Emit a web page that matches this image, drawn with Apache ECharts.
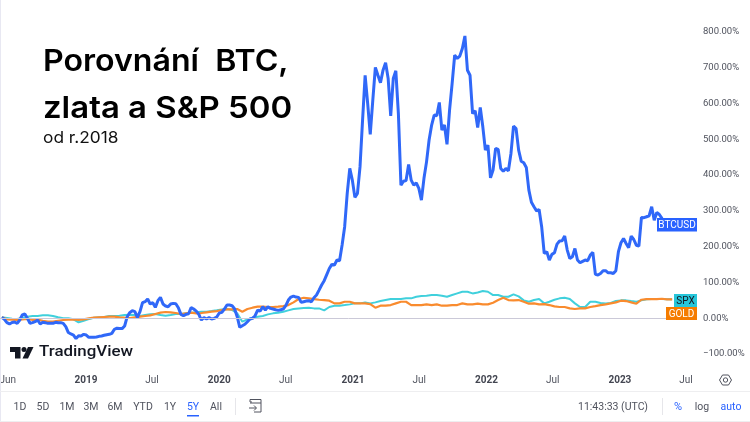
<!DOCTYPE html>
<html>
<head>
<meta charset="utf-8">
<title>Porovnání BTC, zlata a S&amp;P 500</title>
<script src="https://cdn.jsdelivr.net/npm/echarts@6/dist/echarts.min.js"></script>
<style>
html, body { margin: 0; padding: 0; background: #fff; }
#chart { width: 750px; height: 422px; }
</style>
</head>
<body>
<div id="chart"></div>
<script>
// hodnoty, % zmena od kvetna 2018
var startDate = '2018-05-16';
var btcValues = [
  2.5,-3,-12.4,-16,-12,-10.6,-14.3,-5,9,11.8,-0.3,-14,-12.4,-9.6,-5,-16,-11.5,-12.4,-14.3,-14.3,-14.3,-11.5,-12.4,-12.4,-14.3,
  -23.6,-40,-44,-47,-57,-48.8,-49.7,-45,-47,-53.4,-53.4,-53.4,-52.5,-50.6,-49.7,-47.8,-46,-45,-42.2,-31,-28,-29,-29,-21.7,
  4.3,15.5,21,18.3,2.5,18.3,43.4,46.2,53.7,39.7,43.4,30.4,49,58.3,39.7,34,32,
  39.6,41.5,40.6,29.4,10.8,7,10.8,12.6,29.4,25.7,20,10.8,-5,1.5,-2.3,1.5,-2.3,-0.4,3.3,14.5,16.4,25.7,36.8,36.8,35,25.7,4.3,
  -25.5,-21,-17,-9.7,-2.3,-0.4,7,22.9,20,32.2,22.9,32.2,27.5,25.7,23.8,22,23.8,25.7,35,50.8,59.2,62,59.2,58.3,44.3,46.2,48,49,46,57.3,64.8,78.7,92.7,
  105,122,139,150.6,148.7,162.7,160.8,204.6,255.8,349,418.7,386,337.7,349,423,553.7,679,600,513.7,609.6,700.8,679,658,693.4,713.8,670,565.8,670,691.5,572,
  372,383,385,430,386,372,378,363,330,391,437,498,540,568,566,603,526,540,486,581.6,656,735,726,732.5,754,789,693,679,572,580,533,589,535,470,484,392.6,414,474.6,472,418.7,411,418.7,412,460.6,537,530,470,439,434.5,421.5,358,324,311.6,300,304,255.8,181,186,162.7,178.5,183,207,216,
  216.6,229.6,190.5,167,172,195,162.6,155,159,162.6,160.7,176.5,184,122.5,120.7,125,133,133,127,127,125,133,186,211,223,209,197,229.6,220,204,201.7,281.7,281,283.6,286.4,311.5,274,295.7,290,279,270,262,258
];
// dvoutydenni body
var goldValues = [
  2.5,-3,-4,-5,-3,-2,-5,-4,-7,-9.6,-9.6,-7,-5,-4,-3,-5,-3,-0.3,1.5,2.5,3.4,4.3,4.3,2.5,1.5,0.6,2.5,4.3,6.2,8,11.8,15.5,17.4,
  16.4,14.5,11.7,13.6,15.4,13.6,14.5,16.4,18.2,20,22.9,24.7,24.7,25.7,18.2,25.7,29.4,32.2,32.2,31.3,31.3,32.2,34,36.8,44.3,53.6,57.3,55.5,53.6,51.7,50.8,49,41.5,
  41.5,46,46,41.5,41.5,41.5,39.6,29.4,35,35,36.8,41.5,46,46,36.8,36.8,36.8,38.7,36.8,38.7,35,35,36.8,36.8,41.5,38.7,38.7,40.6,38.7,38.7,43.4,50.8,57.3,
  50.8,49.9,50.8,46.2,40.6,41.5,38.7,39.6,36.8,33.1,31.3,31.3,27.5,25.7,27.5,27.5,31.3,34,36.8,38.7,41.5,44.3,49,48,44.3,40.6,51.7,53.6,53.6,53.6,54.5,52.7,52.7
];
var spxValues = [
  2.5,0.6,-1.3,-2.2,0.6,4.3,6.2,6.2,8,8,6.2,2.5,-0.3,-0.3,-3,-11.5,-6.9,-2.2,1.5,2.5,3.4,6.2,6.2,7,9,9.9,9,6.2,9,10.8,11.8,9,7,
  8.9,11.7,11.7,13.6,15.4,16.4,18.2,18.2,20,22,24.7,25.7,22.9,13.6,-9.7,-3.2,1.5,4.3,6.1,10.8,13.6,15.4,18.2,22,25.7,27.5,28.5,29.4,27.5,27.5,22,31.3,35,
  35,36.8,38.7,41.5,41.5,44.3,41.5,44.3,48,50.8,53.6,53.6,53.6,55.5,55.5,60,62,63,64.8,64.8,63,60,64.8,69.4,74,74,69.4,72,76,74,64.8,64.8,60,
  60,66.6,61,49.9,46.2,50.8,53.6,41.5,46.2,51.7,55.5,57.3,53.6,41.5,31.3,31.3,46.2,46.2,42.4,41.5,42.4,48,49.9,49.9,48,46.2,49.9,52.7,53.6,53.6,53.6,52.7,52.7
];
var xTicks = ['2018-06-01','2019-01-01','2019-07-01','2020-01-01','2020-07-01','2021-01-01','2021-07-01','2022-01-01','2022-07-01','2023-01-01','2023-07-01'];
var xTickLabels = ['Jun','2019','Jul','2020','Jul','2021','Jul','2022','Jul','2023','Jul'];
var rangeLabels = ['1D','5D','1M','3M','6M','YTD','1Y','5Y','All'];
var rangeX = [20,43,67,91,115,143,170,193,216];

function series(values, step) {
  var start = new Date(startDate).getTime();
  var out = [];
  for (var i = 0; i < values.length; i++) {
    out.push([start + i * step * 7 * 86400000, values[i]]);
  }
  return out;
}

var tickTimes = xTicks.map(function(d) { return new Date(d).getTime(); });
var font = 'Roboto';

function txt(text, x, y, size, color, extra, sx) {
  var style = { text: text, x: 0, y: 0, fontFamily: font, fontSize: size, fill: color, textAlign: 'center', textVerticalAlign: 'middle' };
  for (var k in extra) style[k] = extra[k];
  return { type: 'text', silent: true, z: 20, x: x, y: y, scaleX: sx || 1, style: style };
}
function box(text, x, y, w, h, bg, color) {
  return [
    { type: 'rect', silent: true, z: 20, shape: { x: x, y: y, width: w, height: h }, style: { fill: bg } },
    { type: 'text', silent: true, z: 21, x: x + w / 2, y: y + h / 2 + 0.5, style: { text: text, x: 0, y: 0, fontFamily: font, fontSize: 10, fill: color, textAlign: 'center', textVerticalAlign: 'middle' } }
  ];
}

var graphics = [
  // nadpis
  txt('Porovnání  BTC,', 43, 62, 30, '#000', { textAlign: 'left', fontFamily: 'Inter', fontWeight: 600 }, 1.07),
  txt('zlata a S&P 500', 43, 108.5, 30, '#000', { textAlign: 'left', fontFamily: 'Inter', fontWeight: 600 }, 1.097),
  txt('od r.2018', 43, 138.5, 16.5, '#111', { textAlign: 'left', fontFamily: 'Inter' }, 1.05),
  // logo
  { type: 'polygon', silent: true, z: 20, shape: { points: [[10,347],[20.5,347],[20.5,358.5],[15,358.5],[15,352],[10,352]] }, style: { fill: '#131722' } },
  { type: 'circle', silent: true, z: 20, shape: { cx: 24, cy: 349.5, r: 2.5 }, style: { fill: '#131722' } },
  { type: 'polygon', silent: true, z: 20, shape: { points: [[28,347],[33.5,347],[28,358.5],[22.5,358.5]] }, style: { fill: '#131722' } },
  txt('TradingView', 39, 352.5, 15.5, '#131722', { textAlign: 'left', fontWeight: 500 }, 1.09),
  // okraje a oddelovace
  { type: 'rect', silent: true, z: 1, shape: { x: 0, y: 0, width: 1, height: 422 }, style: { fill: '#e8e8f2' } },
  { type: 'rect', silent: true, z: 1, shape: { x: 0, y: 391, width: 750, height: 1 }, style: { fill: '#eeeef0' } },
  { type: 'rect', silent: true, z: 1, shape: { x: 0, y: 421, width: 750, height: 1 }, style: { fill: '#eeeef0' } },
  { type: 'rect', silent: true, z: 1, shape: { x: 235, y: 398, width: 1, height: 17 }, style: { fill: '#e6e6ea' } },
  { type: 'rect', silent: true, z: 1, shape: { x: 662, y: 398, width: 1, height: 17 }, style: { fill: '#e6e6ea' } },
  // podtrzeni 5Y
  { type: 'rect', silent: true, z: 20, shape: { x: 187, y: 415, width: 12, height: 1.5 }, style: { fill: '#2962ff' } },
  // kalendar
  { type: 'polyline', silent: true, z: 20, shape: { points: [[252,402],[250,402],[250,399.5],[261,399.5],[261,412],[254,412]] }, style: { fill: 'none', stroke: '#50535e', lineWidth: 1 } },
  { type: 'line', silent: true, z: 20, shape: { x1: 250, y1: 403, x2: 261, y2: 403 }, style: { stroke: '#50535e', lineWidth: 1 } },
  { type: 'polyline', silent: true, z: 20, shape: { points: [[249,408],[256,408]] }, style: { fill: 'none', stroke: '#50535e', lineWidth: 1 } },
  { type: 'polyline', silent: true, z: 20, shape: { points: [[254,405.5],[256.5,408],[254,410.5]] }, style: { fill: 'none', stroke: '#50535e', lineWidth: 1 } },
  // nastaveni
  { type: 'polygon', silent: true, z: 20, shape: { points: [[719.5,380],[722.5,375],[728.5,375],[731.5,380],[728.5,385],[722.5,385]] }, style: { fill: 'none', stroke: '#50535e', lineWidth: 1 } },
  { type: 'circle', silent: true, z: 20, shape: { cx: 725.5, cy: 380, r: 2.2 }, style: { fill: 'none', stroke: '#50535e', lineWidth: 1 } },
  // spodni lista vpravo
  txt('11:43:33 (UTC)', 613, 407, 10.5, '#50535e'),
  txt('%', 678, 407, 11, '#2962ff'),
  txt('log', 702, 407, 10.5, '#50535e'),
  txt('auto', 731, 407, 10.5, '#2962ff')
];
rangeLabels.forEach(function(r, i) {
  graphics.push(txt(r, rangeX[i], 407, 10.5, r === '5Y' ? '#2962ff' : '#50535e'));
});
graphics = graphics
  .concat(box('BTCUSD', 657, 218, 40, 13.5, '#2962ff', '#fff'))
  .concat(box('SPX', 674, 294, 23, 13, '#26c6da', '#131722'))
  .concat(box('GOLD', 666, 307, 31, 13, '#f57c00', '#fff'));

var option = {
  animation: false,
  backgroundColor: '#fff',
  textStyle: { fontFamily: font },
  grid: { left: 0, top: 32, width: 697, height: 322, outerBoundsMode: 'none' },
  xAxis: {
    type: 'value',
    min: new Date('2018-05-11').getTime(),
    max: new Date('2023-07-31').getTime(),
    splitLine: { show: false },
    axisLine: { show: false },
    axisTick: { show: false },
    axisLabel: {
      customValues: tickTimes,
      margin: 21,
      fontSize: 10,
      hideOverlap: false,
      formatter: function(v) {
        var lab = xTickLabels[tickTimes.indexOf(v)] || '';
        return /^\d/.test(lab) ? '{y|' + lab + '}' : '{m|' + lab + '}';
      },
      rich: {
        y: { fontSize: 10, fontWeight: 'bold', color: '#434651', fontFamily: font },
        m: { fontSize: 10, color: '#50535e', fontFamily: font }
      }
    }
  },
  yAxis: {
    type: 'value',
    position: 'right',
    min: -100,
    max: 800,
    interval: 100,
    splitLine: { show: false },
    axisLine: { show: false },
    axisTick: { show: false },
    axisLabel: {
      margin: 6,
      fontSize: 9.5,
      color: '#50535e',
      align: 'left',
      padding: [3, 0, 0, 0],
      formatter: function(v) {
        return (v < 0 ? '\u2212' : '') + Math.abs(v).toFixed(2) + '%';
      }
    }
  },
  series: [
    {
      name: 'SPX', type: 'line', showSymbol: false, z: 2,
      data: series(spxValues, 2),
      lineStyle: { color: '#40d0dc', width: 2 },
      markLine: {
        silent: true, symbol: 'none', animation: false,
        label: { show: false },
        lineStyle: { color: '#cbc9d8', width: 1, type: 'solid' },
        data: [{ yAxis: 0 }]
      }
    },
    {
      name: 'GOLD', type: 'line', showSymbol: false, z: 3,
      data: series(goldValues, 2),
      lineStyle: { color: '#f98b2e', width: 2.2 }
    },
    {
      name: 'BTCUSD', type: 'line', showSymbol: false, z: 4,
      data: series(btcValues, 1),
      lineStyle: { color: '#3068f8', width: 3 }
    }
  ],
  graphic: graphics
};
var chart = echarts.init(document.getElementById('chart'));
chart.setOption(option);
</script>
</body>
</html>
